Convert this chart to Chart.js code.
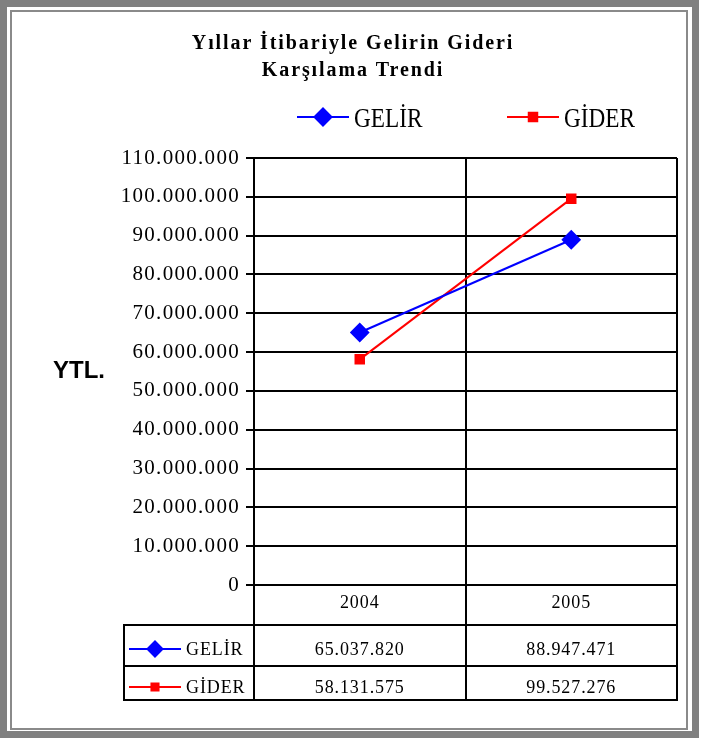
<!DOCTYPE html>
<html>
<head>
<meta charset="utf-8">
<script src="https://cdn.jsdelivr.net/npm/chart.js@4"></script>
<style>
  html, body { margin: 0; padding: 0; background: #fff; }
  #wrap { width: 707px; height: 738px; }
</style>
</head>
<body>
<div id="wrap"><canvas id="chart" width="707" height="738"></canvas></div>
<script>
// ── Data ───────────────────────────────────────────────────
const years       = ["2004", "2005"];
const gelir       = [65037820, 88947471];
const gider       = [58131575, 99527276];
const seriesNames = ["GELİR", "GİDER"];
const titleLines  = ["Yıllar İtibariyle Gelirin Gideri", "Karşılama Trendi"];
const yUnit       = "YTL.";
const yMax        = 110000000;
const yStep       = 10000000;

// ── Helpers ────────────────────────────────────────────────
const fmt   = v => Math.round(v).toString().replace(/\B(?=(\d{3})+(?!\d))/g, ".");
const SERIF = "'Liberation Serif', 'Times New Roman', serif";

function marker(ctx, ds, x1, x2, y, r) {
  ctx.save();
  ctx.strokeStyle = ds.borderColor;
  ctx.fillStyle   = ds.pointBackgroundColor;
  ctx.lineWidth   = 2;
  ctx.beginPath(); ctx.moveTo(x1, y); ctx.lineTo(x2, y); ctx.stroke();
  Chart.helpers.drawPoint(ctx, { pointStyle: ds.pointStyle, radius: r || ds.pointRadius, rotation: 0, borderWidth: 1 }, (x1 + x2) / 2, y);
  ctx.restore();
}

function squeezeText(ctx, text, x, y, sx) {
  ctx.save();
  ctx.translate(x, y);
  ctx.scale(sx, 1);
  ctx.fillText(text, 0, 0);
  ctx.restore();
}

// ── Decorations: frame, title, legend, unit, data table ────
const deco = {
  id: "deco",
  beforeDraw(chart) {
    const c = chart.ctx;
    c.save();
    c.fillStyle = "#fff";
    c.fillRect(0, 0, chart.width, chart.height);
    c.strokeStyle = "#808080";
    c.lineWidth = 7;
    c.strokeRect(3.5, 3.5, 692, 731);
    c.strokeStyle = "#8a8a8a";
    c.lineWidth = 2;
    c.strokeRect(11, 11, 676, 718);
    c.restore();
    c.letterSpacing = "1.3px";   // spaced serif tick labels
  },
  afterDraw(chart) {
    const c  = chart.ctx;
    const a  = chart.chartArea;
    const xs = chart.scales.x;
    const sets = chart.data.datasets;

    c.save();
    c.fillStyle = "#000";

    // title
    c.font = "bold 20px " + SERIF;
    c.letterSpacing = "1.9px";
    c.textAlign = "center";
    c.textBaseline = "alphabetic";
    titleLines.forEach((t, i) => c.fillText(t, 353, 49 + i * 27));

    // legend
    c.letterSpacing = "0px";
    c.font = "28px " + SERIF;
    c.textAlign = "left";
    const legX = [297, 507];
    sets.forEach((ds, i) => {
      marker(c, ds, legX[i], legX[i] + 52, 117);
      c.fillStyle = "#000";
      squeezeText(c, ds.label, legX[i] + 57, 127, 0.83);
    });

    // unit label
    c.font = "bold 24px 'Liberation Sans', Arial, sans-serif";
    c.fillText(yUnit, 53, 378);

    // data table
    const L = 124, r1 = 625, r2 = 666, r3 = 700;
    c.strokeStyle = "#000";
    c.lineWidth = 2;
    c.beginPath();
    [r1, r2, r3].forEach(y => { c.moveTo(L, y); c.lineTo(a.right + 1, y); });
    c.moveTo(L, r1 - 1); c.lineTo(L, r3 + 1);
    for (let i = 0; i <= years.length; i++) {
      const ex = Math.round(xs.getPixelForValue(i - 0.5));
      c.moveTo(ex, a.bottom); c.lineTo(ex, r3 + 1);
    }
    c.stroke();

    c.font = "18px " + SERIF;
    c.letterSpacing = "0.9px";
    c.textAlign = "center";
    years.forEach((y, i) => c.fillText(y, xs.getPixelForValue(i), 608));

    const rowBase = [655, 693];
    const rowMark = [649, 687];
    sets.forEach((ds, j) => {
      marker(c, ds, 129, 181, rowMark[j], ds.pointStyle === "rect" ? 5 : 7.5);
      c.fillStyle = "#000";
      c.textAlign = "left";
      c.fillText(ds.label, 186, rowBase[j]);
      c.textAlign = "center";
      ds.data.forEach((v, i) => c.fillText(fmt(v), xs.getPixelForValue(i), rowBase[j]));
    });

    c.restore();
  }
};

// ── Chart ──────────────────────────────────────────────────
new Chart(document.getElementById("chart"), {
  type: "line",
  data: {
    labels: years,
    datasets: [
      {
        label: seriesNames[0],
        data: gelir,
        borderColor: "#0000ff",
        backgroundColor: "#0000ff",
        pointBackgroundColor: "#0000ff",
        pointBorderColor: "#0000ff",
        pointStyle: "rectRot",
        pointRadius: 8.5,
        borderWidth: 2,
        tension: 0,
      },
      {
        label: seriesNames[1],
        data: gider,
        borderColor: "#ff0000",
        backgroundColor: "#ff0000",
        pointBackgroundColor: "#ff0000",
        pointBorderColor: "#ff0000",
        pointStyle: "rect",
        pointRadius: 6,
        borderWidth: 2,
        tension: 0,
      },
    ],
  },
  options: {
    responsive: false,
    devicePixelRatio: 1,
    animation: false,
    events: [],
    layout: { padding: { top: 158, right: 30, bottom: 0, left: 0 } },
    plugins: {
      legend:  { display: false },
      title:   { display: false },
      tooltip: { enabled: false },
    },
    scales: {
      x: {
        type: "category",
        offset: true,
        ticks:  { display: false },
        grid:   { offset: true, color: "#000", lineWidth: 2, drawTicks: false },
        border: { display: false },
        afterFit: s => { s.height = 153; },
      },
      y: {
        min: 0,
        max: yMax,
        ticks: {
          stepSize: yStep,
          color: "#000",
          padding: 6,
          font: { family: "Liberation Serif", size: 21 },
          callback: v => fmt(v),
        },
        grid:   { color: "#000", lineWidth: 2, tickLength: 8 },
        border: { color: "#000", width: 2 },
        afterFit: s => { s.width = 254; },
      },
    },
  },
  plugins: [deco],
});
</script>
</body>
</html>
